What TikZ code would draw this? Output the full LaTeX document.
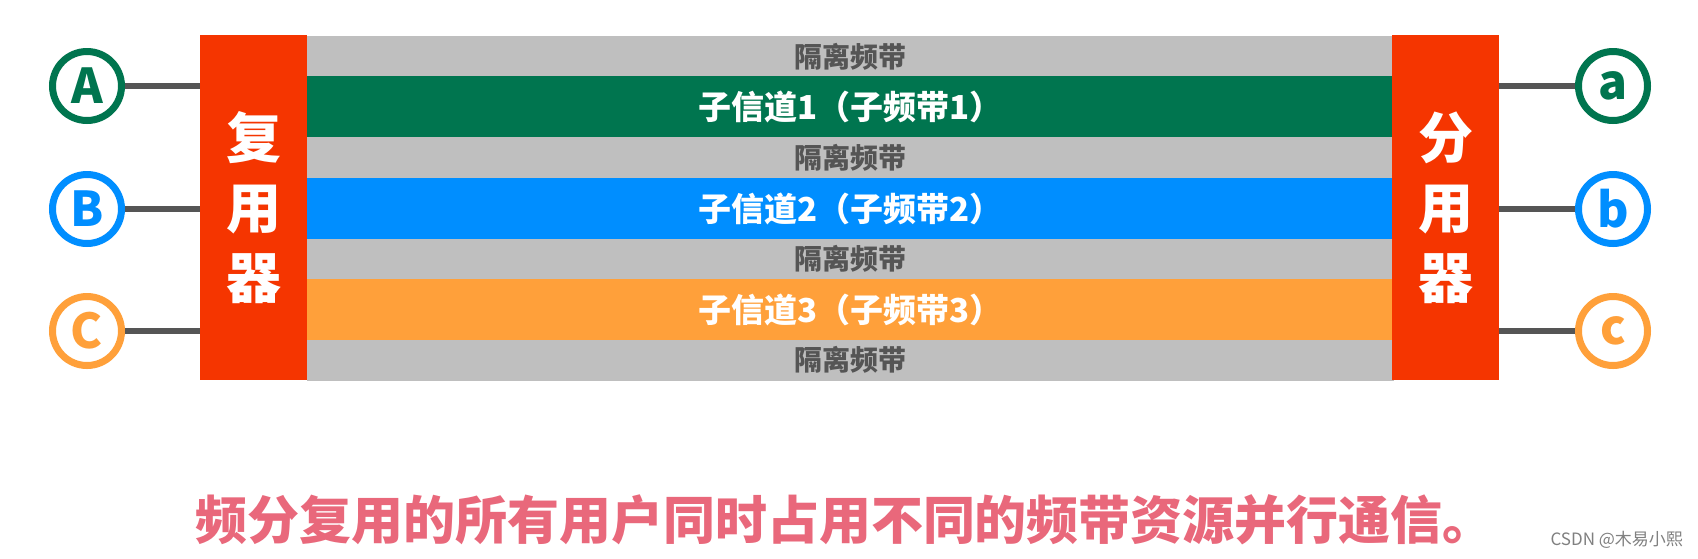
\documentclass[tikz,border=0pt]{standalone}
\usepackage{fontspec}
\setmainfont{Noto Sans CJK SC}
\usepackage{tikz}
\usetikzlibrary{calc,positioning}
\definecolor{gruen}{RGB}{0,117,79}
\definecolor{blau}{RGB}{0,142,255}
\definecolor{orange}{RGB}{255,160,58}
\definecolor{rot}{RGB}{245,53,0}
\definecolor{grau}{RGB}{191,191,191}
\definecolor{schrift}{RGB}{85,85,85}
\definecolor{rosa}{RGB}{233,104,123}
\tikzset{
    gap/.style={
           rectangle, fill=grau,
           minimum width=1087pt, minimum height=41pt,
           inner sep=0pt, text=schrift,
           font=\bfseries\fontsize{28}{28}\selectfont},
    kanal/.style={
           rectangle,
           minimum width=1087pt, minimum height=61pt,
           inner sep=0pt, text=white,
           font=\bfseries\fontsize{33}{33}\selectfont},
    boks/.style={
           rectangle, fill=rot,
           minimum width=107pt, minimum height=345pt,
           inner sep=0pt, text=white, align=center,
           font=\bfseries\fontsize{55}{70}\selectfont},
    ring/.style={
           circle, draw=#1, text=#1,
           line width=7pt, fill=white,
           minimum size=69pt, inner sep=0pt,
           font=\bfseries\fontsize{48}{48}\selectfont},
    wire/.style={
           draw=schrift,
           line width=6pt}
}
\begin{document}
\begin{tikzpicture}[x=1pt,y=-1pt]
          \useasboundingbox[fill=white] (0,0) rectangle (1698,558);
          \def \mid {850.5}
          % baender
          \node[gap] (g1) at (\mid,56.5) {隔离频带};
          \node[kanal, fill=gruen] (k1) at (\mid,106.5) {子信道1（子频带1）};
          \node[gap] (g2) at (\mid,157.5) {隔离频带};
          \node[kanal, fill=blau] (k2) at (\mid,208.5) {子信道2（子频带2）};
          \node[gap] (g3) at (\mid,259) {隔离频带};
          \node[kanal, fill=orange] (k3) at (\mid,309.5) {子信道3（子频带3）};
          \node[gap] (g4) at (\mid,360) {隔离频带};
          % mux / demux
          \node[boks] (mux) at (253.5,207.5) {复\\用\\器};
          \node[boks] (demux) at (1445.5,207.5) {分\\用\\器};
          % users
          \node[ring=gruen] (pA) at (87,86) {A};
          \node[ring=blau] (pB) at (87,209) {B};
          \node[ring=orange] (pC) at (87,331) {C};
          \node[ring=gruen] (pa) at (1613,86) {a};
          \node[ring=blau] (pb) at (1613,209) {b};
          \node[ring=orange] (pc) at (1613,331) {c};
          \draw[wire] (pA) -- (mux.west |- pA);
          \draw[wire] (pB) -- (mux.west |- pB);
          \draw[wire] (pC) -- (mux.west |- pC);
          \draw[wire] (demux.east |- pa) -- (pa);
          \draw[wire] (demux.east |- pb) -- (pb);
          \draw[wire] (demux.east |- pc) -- (pc);
          % text unten
          \node[text=rosa, font=\bfseries\fontsize{52}{52}\selectfont] (satz) at (845,520) {频分复用的所有用户同时占用不同的频带资源并行通信。};
          \node[anchor=west, text=gray, font=\fontsize{17}{17}\selectfont] (mark) at (1547,540) {CSDN @木易小熙};
\end{tikzpicture}
\end{document}
